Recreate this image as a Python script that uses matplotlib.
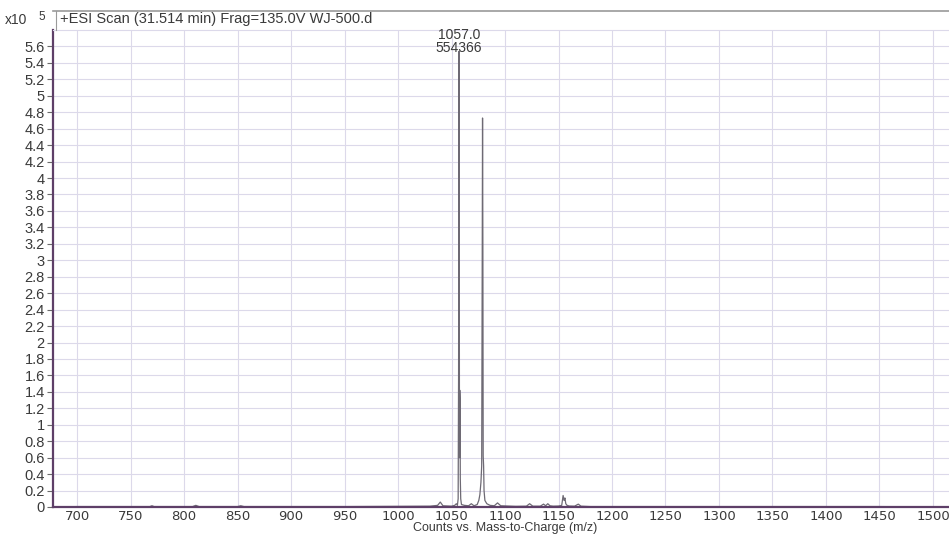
import numpy as np
import matplotlib as mpl
mpl.use('Agg')
import matplotlib.pyplot as plt
from matplotlib.lines import Line2D

mpl.rcParams['font.family'] = ['Liberation Sans', 'DejaVu Sans']

# profile spectrum (m/z, counts x1e5)
mz = [677, 700, 740, 768, 770, 772, 808, 811, 814, 850, 853, 856, 900, 950,
      1000, 1030, 1037, 1039.5, 1042, 1050, 1053, 1054.5, 1055.5, 1056.2, 1056.6,
      1056.85, 1057.0, 1057.2, 1057.45, 1057.7, 1057.95, 1058.2, 1058.6, 1059.3, 1062,
      1066, 1068.5, 1071, 1074, 1075.5, 1076.5, 1077.5, 1078.2, 1078.7, 1079.0, 1079.3,
      1079.6, 1080.0, 1080.4, 1081.2, 1083, 1086, 1090, 1093, 1096, 1110, 1120,
      1123, 1126, 1133, 1136, 1138, 1140, 1142, 1145, 1150, 1153, 1154.3, 1155.2,
      1156.0, 1156.8, 1158, 1160, 1165, 1168.5, 1171, 1180, 1250, 1350, 1450, 1515]
counts = [0.0, 0.005, 0.005, 0.005, 0.015, 0.005, 0.005, 0.02, 0.005, 0.005, 0.015, 0.005, 0.005, 0.005,
          0.008, 0.01, 0.02, 0.06, 0.015, 0.01, 0.02, 0.04, 0.02, 0.1, 1.6,
          4.4, 5.54, 3.8, 0.6, 1.42, 1.3, 0.35, 0.1, 0.03, 0.02,
          0.015, 0.04, 0.015, 0.03, 0.08, 0.15, 0.3, 0.5, 3.0, 4.73, 3.2,
          0.62, 0.5, 0.2, 0.08, 0.04, 0.02, 0.015, 0.05, 0.015, 0.008, 0.01,
          0.04, 0.01, 0.01, 0.035, 0.015, 0.04, 0.015, 0.01, 0.012, 0.02, 0.14, 0.08,
          0.11, 0.04, 0.02, 0.012, 0.01, 0.035, 0.01, 0.005, 0.005, 0.005, 0.005, 0.0]

y_ticks = [round(0.2 * i, 1) for i in range(29)]
x_ticks = list(range(700, 1501, 50))

fig = plt.figure(figsize=(9.49, 5.34), dpi=100)
W, H = 949, 534
x0, ybot, ytop = 53, 507, 30
ax = fig.add_axes([x0 / W, (H - ybot) / H, 1 - x0 / W, (ybot - ytop) / H])

ax.plot(mz, counts, color='#6e6a74', lw=0.9)
ax.set_xlim(677.5, 1515)
ax.set_ylim(0, 5.8)

ax.set_yticks(y_ticks)
ax.set_yticklabels(['%g' % t for t in y_ticks], fontsize=10.5, color='#3a3a3a')
ax.set_xticks(x_ticks)
ax.set_xticklabels([str(t) for t in x_ticks], fontsize=9.5, color='#3a3a3a',
                   family=['DejaVu Sans'])
ax.tick_params(axis='y', length=4, width=0.8, color='#6a6a6a', pad=2)
ax.tick_params(axis='x', length=0, pad=2)
ax.grid(True, color='#dcd9ea', lw=0.8)
ax.set_axisbelow(True)

for s in ['left', 'bottom']:
    ax.spines[s].set_color('#5e3f68')
    ax.spines[s].set_linewidth(1.6)
ax.spines['top'].set_color('#dcd9ea')
ax.spines['top'].set_linewidth(0.8)
ax.spines['right'].set_visible(False)

fig.text(505 / W, 1 - 528 / H, 'Counts vs. Mass-to-Charge (m/z)', fontsize=9,
         color='#3a3a3a', ha='center', va='center')

# peak annotation
ax.text(1057, 5.5, '1057.0\n554366', ha='center', va='bottom', fontsize=10,
        color='#3a3a3a', linespacing=0.9, clip_on=False)

# header band
fig.add_artist(Line2D([x0 / W, 1], [1 - 11 / H, 1 - 11 / H], color='#9a9a9a', lw=1.2))
fig.add_artist(Line2D([56 / W, 56 / W], [1 - 11 / H, 1 - ytop / H], color='#9a9a9a', lw=0.8))
fig.text(60 / W, 1 - 19 / H, '+ESI Scan (31.514 min) Frag=135.0V WJ-500.d',
         fontsize=10.5, color='#3a3a3a', va='center', ha='left')
fig.text(5 / W, 1 - 20 / H, 'x10', fontsize=10, color='#3a3a3a', va='center', ha='left')
fig.text(38 / W, 1 - 17 / H, '5', fontsize=8.5, color='#3a3a3a', va='center', ha='left')

fig.savefig('out.png', dpi=100)
